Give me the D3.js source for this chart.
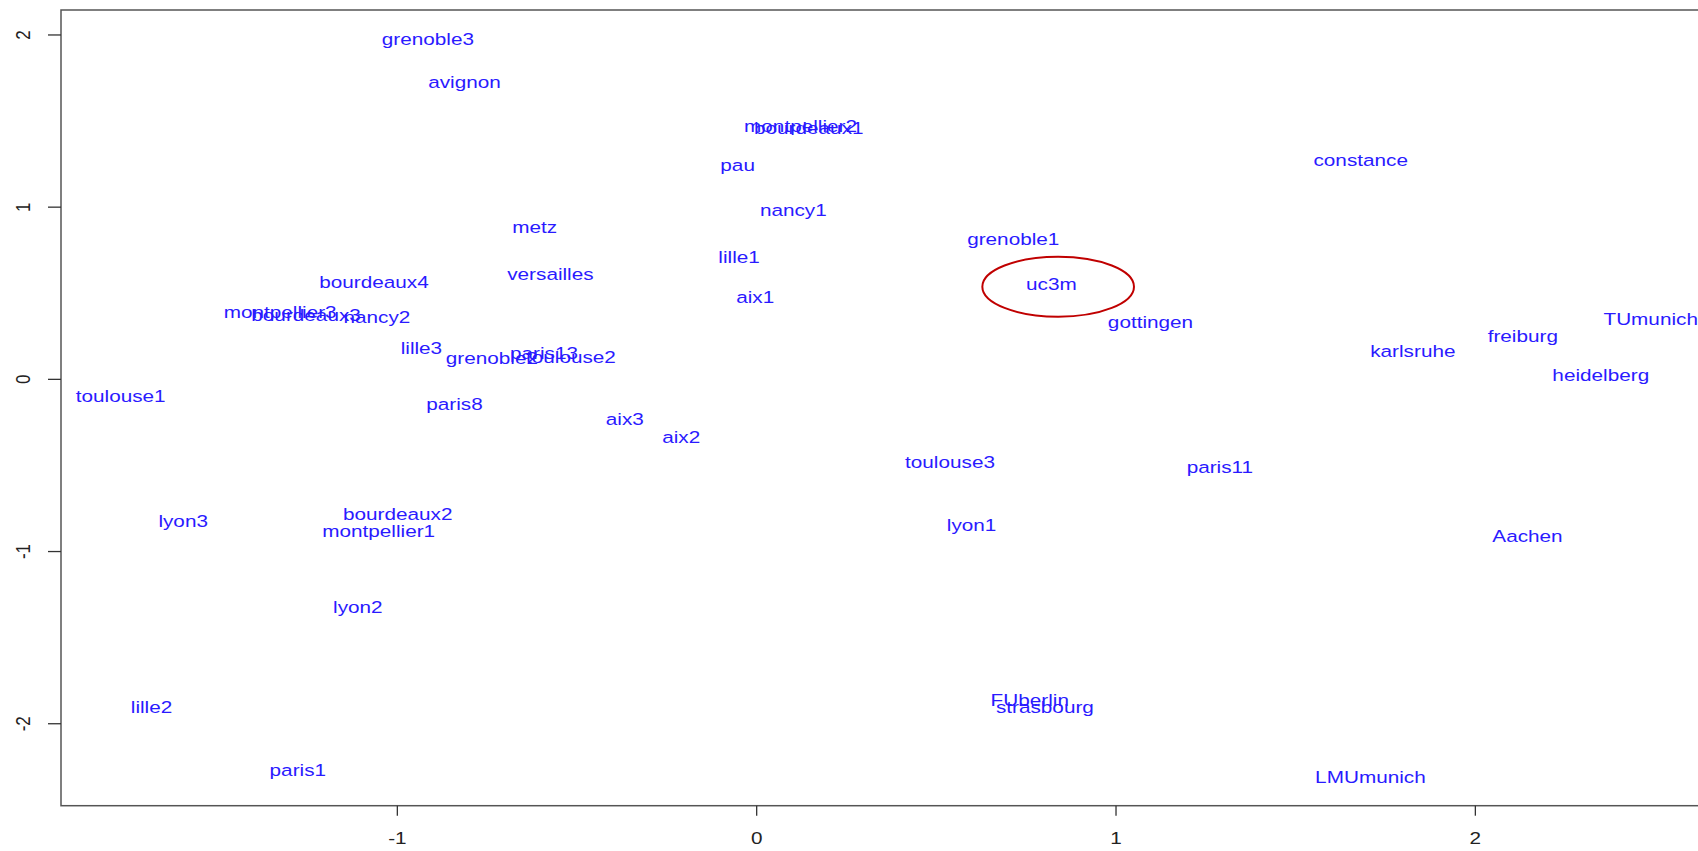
<!DOCTYPE html>
<html>
<head>
<meta charset="utf-8">
<script src="https://cdn.jsdelivr.net/npm/d3@7"></script>
<style>
  html, body { margin: 0; padding: 0; background: #fff; }
  svg { display: block; }
  text { font-family: "Liberation Sans", Arial, sans-serif; }
</style>
</head>
<body>
<svg id="chart" width="1698" height="851"></svg>
<script>
// ---- data ----
const labels = ["grenoble3","avignon","montpellier2","bourdeaux1","pau","nancy1","constance","metz","grenoble1","lille1","versailles","bourdeaux4","uc3m","aix1","montpellier3","bourdeaux3","nancy2","gottingen","TUmunich","freiburg","lille3","karlsruhe","paris13","grenoble2","toulouse2","heidelberg","toulouse1","paris8","aix3","aix2","toulouse3","paris11","bourdeaux2","lyon1","montpellier1","lyon3","Aachen","lyon2","FUberlin","strasbourg","lille2","paris1","LMUmunich"];
const dim1 = [-0.915,-0.813,0.122,0.145,-0.053,0.102,1.681,-0.618,0.714,-0.049,-0.574,-1.065,0.820,-0.004,-1.326,-1.254,-1.057,1.096,2.488,2.132,-0.933,1.826,-0.592,-0.737,-0.517,2.349,-1.770,-0.841,-0.367,-0.210,0.538,1.289,-0.999,0.598,-1.052,-1.596,2.145,-1.110,0.760,0.802,-1.684,-1.277,1.708];
const dim2 = [1.976,1.725,1.473,1.458,1.244,0.983,1.275,0.883,0.815,0.713,0.611,0.565,0.553,0.480,0.388,0.376,0.362,0.331,0.350,0.253,0.182,0.166,0.153,0.122,0.128,0.025,-0.098,-0.141,-0.231,-0.335,-0.482,-0.511,-0.782,-0.844,-0.883,-0.825,-0.908,-1.321,-1.862,-1.905,-1.905,-2.269,-2.308];
const xTicks = [-1, 0, 1, 2];
const yTicks = [-2, -1, 0, 1, 2];
// highlight ellipse (center and radii in data units)
const ellipseCenter = [0.839, 0.538];
const ellipseRadii = [0.211, 0.174];

// ---- layout ----
const svg = d3.select("#chart");
const pLeft = 61, pTop = 10, pBottom = 805.7, pRight = 1710;
const x = d3.scaleLinear().domain([-1.936, 2.653]).range([pLeft, pRight]);
const y = d3.scaleLinear().domain([-2.476, 2.145]).range([pBottom, pTop]);
const SX = 1.22;       // horizontal stretch of the reference's text
const FS = 17;

// frame
svg.append("rect")
  .attr("x", pLeft).attr("y", pTop)
  .attr("width", pRight - pLeft).attr("height", pBottom - pTop)
  .attr("fill", "none").attr("stroke", "#555").attr("stroke-width", 1.5);

// x axis ticks
const xAxisG = svg.append("g");
xAxisG.selectAll("line").data(xTicks).join("line")
  .attr("x1", d => x(d)).attr("x2", d => x(d))
  .attr("y1", pBottom).attr("y2", pBottom + 10)
  .attr("stroke", "#333").attr("stroke-width", 1.3);
xAxisG.selectAll("text").data(xTicks).join("text")
  .attr("transform", d => `translate(${x(d)},${838}) scale(${SX},1)`)
  .attr("text-anchor", "middle").attr("dy", "0.35em")
  .attr("font-size", FS).attr("fill", "#222")
  .text(d => d);

// y axis ticks
const yAxisG = svg.append("g");
yAxisG.selectAll("line").data(yTicks).join("line")
  .attr("x1", pLeft - 13).attr("x2", pLeft)
  .attr("y1", d => y(d)).attr("y2", d => y(d))
  .attr("stroke", "#333").attr("stroke-width", 1.3);
yAxisG.selectAll("text").data(yTicks).join("text")
  .attr("transform", d => `translate(${23},${y(d)}) scale(${SX},1) rotate(-90)`)
  .attr("text-anchor", "middle").attr("dy", "0.35em")
  .attr("font-size", FS).attr("fill", "#222")
  .text(d => d);

// point labels
const pts = labels.map((l, i) => ({ label: l, a: dim1[i], b: dim2[i] }));
svg.append("g").selectAll("text").data(pts).join("text")
  .attr("transform", d => `translate(${x(d.a)},${y(d.b)}) scale(${SX},1)`)
  .attr("text-anchor", "middle").attr("dy", "0.35em")
  .attr("font-size", FS).attr("fill", "#2a1aff")
  .text(d => d.label);

// highlight ellipse
svg.append("ellipse")
  .attr("cx", x(ellipseCenter[0])).attr("cy", y(ellipseCenter[1]))
  .attr("rx", x(ellipseCenter[0] + ellipseRadii[0]) - x(ellipseCenter[0]))
  .attr("ry", y(ellipseCenter[1] - ellipseRadii[1]) - y(ellipseCenter[1]))
  .attr("fill", "none").attr("stroke", "#c00000").attr("stroke-width", 2);
</script>
</body>
</html>
